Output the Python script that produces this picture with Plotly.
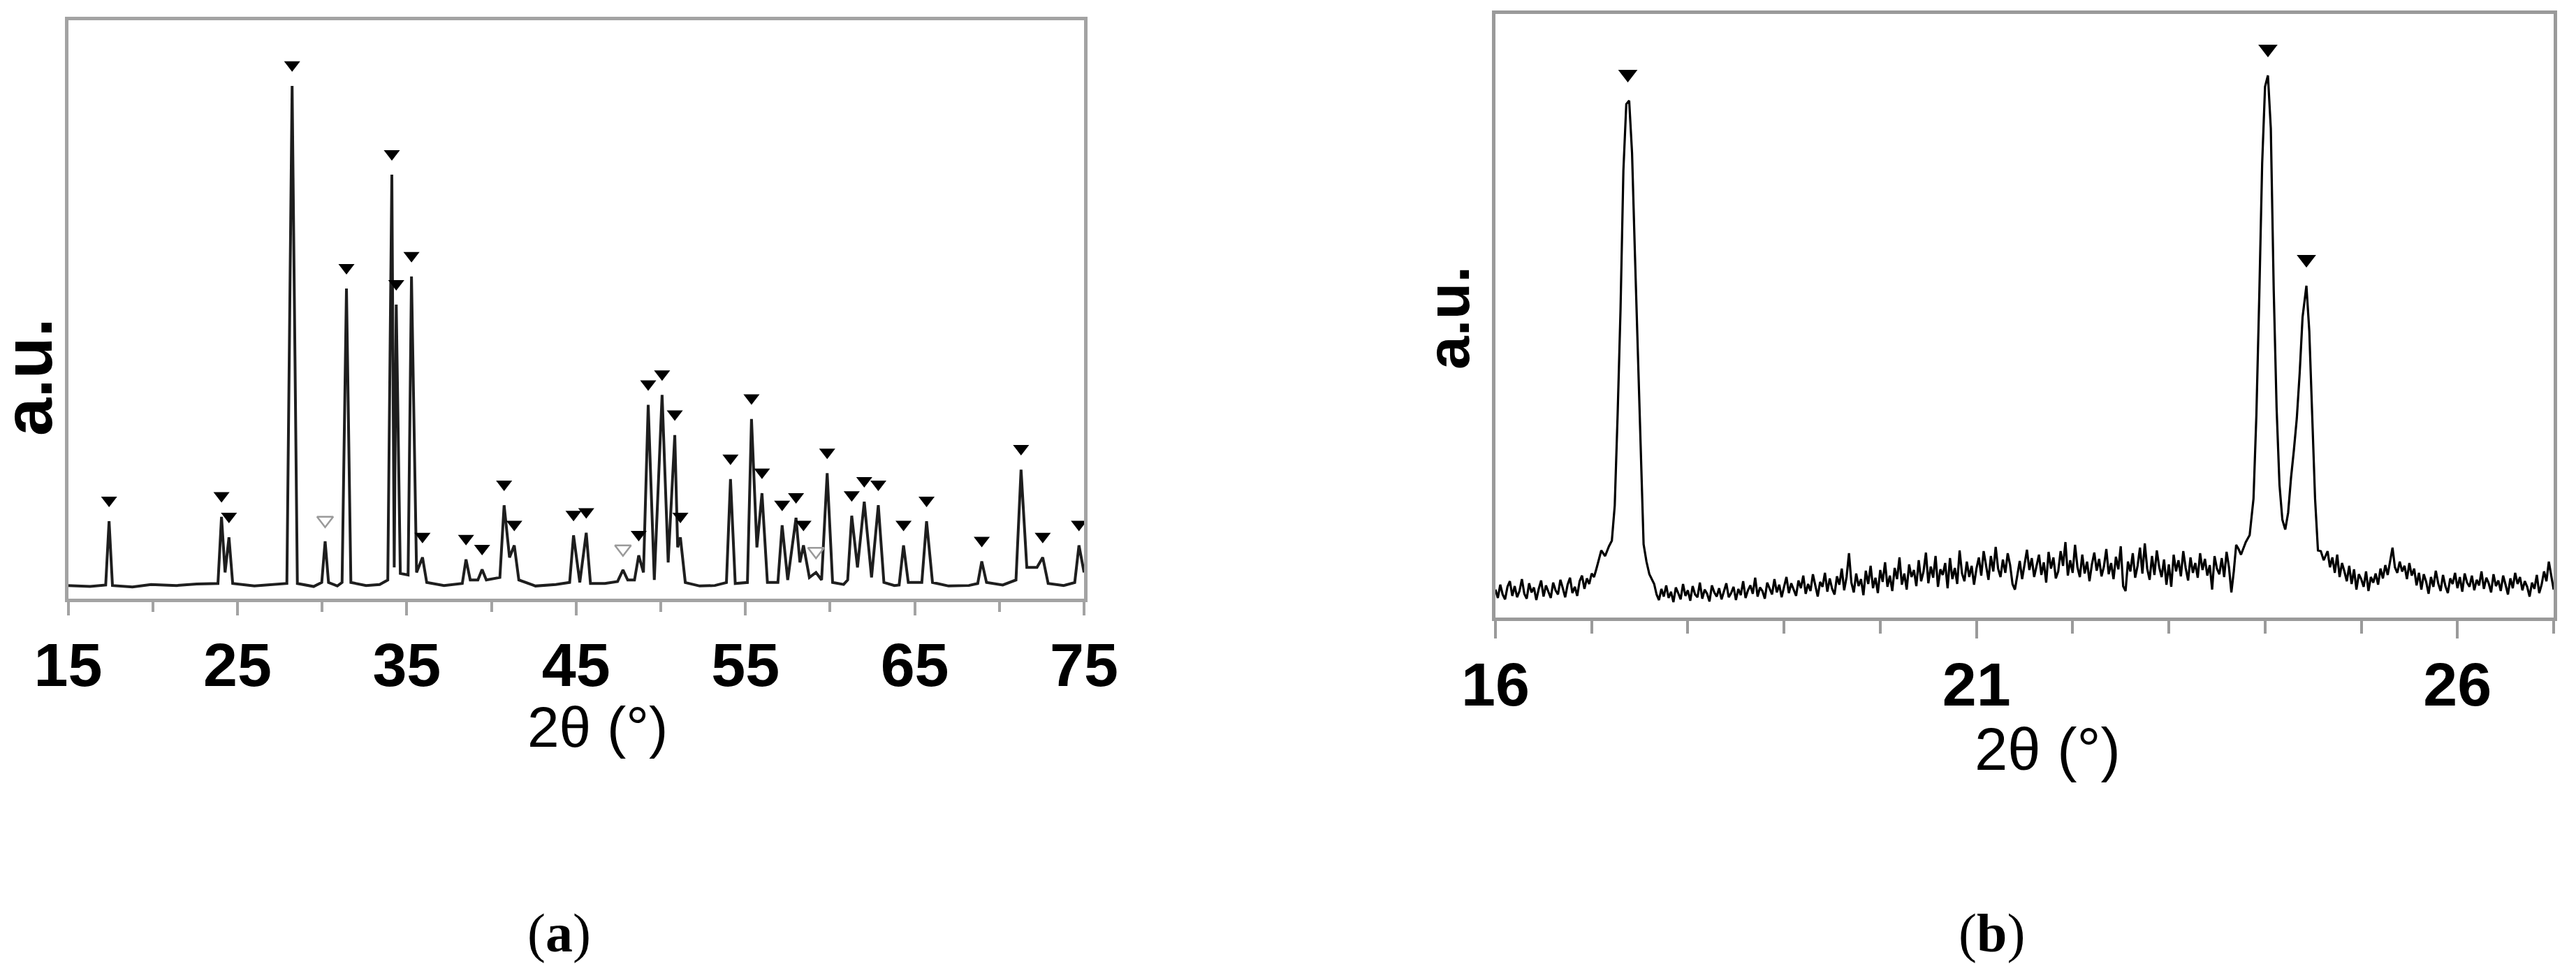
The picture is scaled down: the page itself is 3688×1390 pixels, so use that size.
import plotly.graph_objects as go

# page geometry (browser body has an 8 px default margin)
PAGE_W, PAGE_H = 3688, 1390
BODY = 8
W, H = PAGE_W - 2 * BODY, PAGE_H - 2 * BODY

# ---------------- Panel (a) data: full XRD pattern ----------------
a_peak_2theta = [17.42, 24.06, 24.50, 28.23, 30.18, 31.44, 34.12, 34.38, 35.28, 35.93,
                 38.50, 39.45, 40.75, 41.35, 44.85, 45.60, 47.77, 48.70, 49.26, 50.08,
                 50.83, 51.16, 54.12, 55.36, 55.98, 57.17, 57.99, 58.43, 59.17, 59.83,
                 61.28, 62.02, 62.85, 64.34, 65.70, 68.96, 71.28, 72.56, 74.70]
a_peak_int = [13.2, 14.1, 10.0, 100.0, 9.2, 59.6, 82.3, 56.4, 62.0, 6.0,
              5.6, 3.6, 16.4, 8.4, 10.4, 10.9, 3.5, 6.4, 36.4, 38.4,
              30.4, 10.0, 21.6, 33.6, 18.8, 12.4, 13.9, 8.4, 3.0, 22.8,
              14.3, 17.1, 16.4, 8.4, 13.2, 5.2, 23.5, 6.0, 8.4]
a_peak_open = [30.18, 47.77, 59.17]   # peaks marked with hollow triangles

a_base_2theta = [15.0, 16.3, 17.22, 17.62, 18.8, 19.9, 21.4, 22.6, 23.85, 24.27, 24.72,
                 26.0, 27.2, 27.92, 28.54, 29.5, 29.98, 30.38, 30.9, 31.18, 31.70,
                 32.6, 33.4, 33.88, 34.26, 34.62, 35.08, 35.58, 36.18, 37.2, 38.28,
                 38.75, 39.2, 39.7, 40.5, 41.07, 41.62, 42.6, 43.8, 44.62, 45.22,
                 45.85, 46.7, 47.45, 48.05, 48.45, 48.98, 49.62, 50.44, 51.0, 51.45,
                 52.3, 53.2, 53.88, 54.40, 55.12, 55.68, 56.30, 56.92, 57.50, 58.22,
                 58.78, 59.50, 60.15, 60.8, 61.04, 61.62, 62.45, 63.18, 63.8, 64.08,
                 64.62, 65.42, 66.05, 67.0, 68.2, 68.72, 69.24, 70.2, 70.98, 71.62,
                 72.22, 72.88, 73.8, 74.45, 75.0]
a_base_int = [0.4, 0.2, 0.5, 0.4, 0.1, 0.6, 0.4, 0.7, 0.8, 3.0, 0.8,
              0.3, 0.6, 0.8, 0.8, 0.2, 1.0, 1.0, 0.3, 1.0, 1.0,
              0.4, 0.6, 1.5, 4.0, 2.8, 2.5, 3.0, 1.0, 0.4, 0.8,
              1.5, 1.5, 1.5, 2.0, 6.0, 1.5, 0.3, 0.6, 1.0, 1.0,
              0.8, 0.8, 1.2, 1.5, 1.5, 3.0, 1.5, 5.0, 8.0, 1.0,
              0.3, 0.4, 1.0, 0.8, 1.0, 8.0, 1.0, 1.0, 1.5, 5.0,
              2.0, 1.5, 1.0, 0.6, 1.5, 4.0, 2.0, 1.0, 0.4, 0.5,
              1.0, 1.0, 1.0, 0.3, 0.4, 0.8, 1.0, 0.5, 1.5, 4.0,
              4.0, 0.8, 0.4, 1.0, 3.0]

a_ticklabels = ["15", "25", "35", "45", "55", "65", "75"]

# ---------------- Panel (b) data: zoom 16-27 deg (scan step 0.025 deg) ----------------
b_step = 0.025
b_seg1_start = 16.000
b_seg1_int = [40, 28, 47, 33, 26, 44, 52, 31, 45, 29, 38, 55, 34, 27, 49, 36, 43, 25, 41, 53,
              30, 46, 37, 28, 50, 39, 33, 54, 42, 29, 47, 57, 35, 44, 31, 52, 60, 41, 56, 48,
              63, 58, 70]
b_peak1_2theta = [17.10, 17.14, 17.18, 17.21, 17.24, 17.27, 17.30, 17.33, 17.36, 17.39, 17.42,
                  17.45, 17.48, 17.51, 17.54, 17.57, 17.60]
b_peak1_int = [96, 88, 102, 110, 160, 290, 440, 640, 735, 740, 665, 520, 385, 235, 105, 80, 62]
b_seg2_start = 17.650
b_seg2_int = [48, 33, 25, 41, 30, 46, 28, 37, 22, 43,
              35, 26, 48, 31, 39, 24, 45, 33, 29, 50,
              27, 40, 34, 23, 46, 36, 30, 42, 26, 38,
              49, 29, 35, 44, 25, 41, 32, 52, 28, 39,
              46, 34, 57, 30, 43, 38, 27, 50, 41, 33,
              55, 36, 47, 29, 44, 58, 35, 49, 40, 31,
              53, 42, 60, 34, 48, 38, 62, 45, 30, 51,
              44, 64, 37, 56, 41, 33, 59, 47, 70, 39,
              58, 92, 50, 36, 63, 45, 55, 32, 67, 48,
              74, 42, 57, 35, 68, 51, 79, 44, 60, 38,
              71, 55, 86, 47, 63, 40, 76, 58, 68, 45,
              82, 52, 66, 93, 49, 73, 57, 88, 44, 69,
              61, 78, 42, 85, 55, 71, 48, 96, 63, 52,
              80, 58, 74, 47, 70]
b_seg3_start = 21.025
b_seg3_int = [86, 60, 95, 72, 54, 88, 66, 101, 70, 58,
              83, 64, 92, 75, 48, 40, 62, 81, 55, 77,
              97, 68, 85, 58, 73, 90, 61, 79, 50, 94,
              70, 86, 56, 66, 95, 74, 108, 60, 82, 64,
              104, 72, 58, 90, 63, 80, 52, 76, 93, 67,
              84, 59, 73, 98, 62, 78, 55, 87, 69, 102,
              45, 38, 80, 66, 92, 57, 74, 100, 63, 106,
              70, 54, 88, 61, 96, 72, 58, 83, 47, 76,
              44, 90, 66, 82, 59, 95, 71, 53, 86, 64,
              78, 57, 92, 68, 84, 60, 75, 40, 88, 70,
              62, 85, 58, 94, 72, 36, 66, 104, 98, 90]
b_peak2_2theta = [23.80, 23.84, 23.88, 23.91, 23.94, 23.97, 24.00, 24.03, 24.06, 24.09, 24.12,
                  24.15, 24.18, 24.21, 24.24, 24.27, 24.30, 24.33, 24.36, 24.39, 24.43, 24.46,
                  24.49, 24.52, 24.55, 24.58, 24.61]
b_peak2_int = [108, 118, 170, 290, 460, 650, 760, 776, 700, 470, 300,
               190, 140, 126, 150, 200, 240, 285, 350, 430, 475, 410,
               290, 170, 96, 95, 82]
b_seg4_start = 24.650
b_seg4_int = [95, 72, 86, 64, 90, 58, 78, 66, 52, 74,
              48, 69, 40, 62, 55, 44, 66, 38, 58, 50,
              63, 47, 70, 56, 75, 61, 82, 100, 72, 64,
              80, 66, 74, 55, 78, 60, 70, 46, 64, 40,
              62, 51, 34, 58, 44, 67, 49, 38, 61, 45,
              35, 56, 48, 64, 42, 58, 37, 63, 50, 44,
              60, 39, 54, 46, 66, 41, 57, 49, 36, 62,
              45, 53, 38, 60, 47, 33, 56, 42, 64, 48,
              58, 39, 52, 44, 30, 50, 41, 61, 35, 47,
              66, 52, 80, 58, 40]
b_peak_2theta = [17.376, 24.03, 24.43]
b_peak_int = [740, 776, 475]
b_ticklabels = ["16", "21", "26"]

# ---------------- build curves ----------------
a_pts = sorted(list(zip(a_peak_2theta, a_peak_int)) + list(zip(a_base_2theta, a_base_int)))
a_x = [p[0] for p in a_pts]
a_y = [p[1] for p in a_pts]


def seg(start, vals):
    return [round(start + b_step * i, 3) for i in range(len(vals))], list(vals)


b_x, b_y = [], []
for xs, ys in [seg(b_seg1_start, b_seg1_int), (b_peak1_2theta, b_peak1_int),
               seg(b_seg2_start, b_seg2_int), seg(b_seg3_start, b_seg3_int),
               (b_peak2_2theta, b_peak2_int), seg(b_seg4_start, b_seg4_int)]:
    b_x += list(xs)
    b_y += list(ys)

# ---------------- styling constants ----------------
AX_GRAY = "#a3a3a3"
SANS = "Liberation Sans, Arial, sans-serif"
SERIF = "Liberation Serif, Times New Roman, serif"


def px_x(p):
    return (p - BODY) / W


def px_y(p):
    return 1 - (p - BODY) / H


# plot-area pixel boxes (page pixels)
A_L, A_R, A_T, A_B = 97.5, 1552, 29, 857
B_L, B_R, B_T, B_B = 2141, 3656, 20, 884
A_PX_PER_UNIT = 7.18
A_BASE_PX = 841
a_yrange = [-(A_B - A_BASE_PX) / A_PX_PER_UNIT, (A_BASE_PX - A_T) / A_PX_PER_UNIT]
A_MARK_GAP = 4.2
B_MARK_GAP = 38

fig = go.Figure()

fig.add_trace(go.Scatter(x=a_x, y=a_y, mode="lines", line=dict(color="#1e1e1e", width=4),
                         xaxis="x", yaxis="y", showlegend=False, hoverinfo="skip"))

filled = [(p, h) for p, h in zip(a_peak_2theta, a_peak_int) if p not in a_peak_open]
hollow = [(p, h) for p, h in zip(a_peak_2theta, a_peak_int) if p in a_peak_open]
fig.add_trace(go.Scatter(x=[p for p, h in filled], y=[h + A_MARK_GAP for p, h in filled],
                         mode="markers", marker=dict(symbol="triangle-down", size=20, color="black"),
                         xaxis="x", yaxis="y", showlegend=False))
fig.add_trace(go.Scatter(x=[p for p, h in hollow], y=[h + A_MARK_GAP for p, h in hollow],
                         mode="markers",
                         marker=dict(symbol="triangle-down-open", size=20, color="#9a9a9a",
                                     line=dict(width=2.5, color="#9a9a9a")),
                         xaxis="x", yaxis="y", showlegend=False))

fig.add_trace(go.Scatter(x=b_x, y=b_y, mode="lines", line=dict(color="black", width=3.2),
                         xaxis="x2", yaxis="y2", showlegend=False, hoverinfo="skip"))
fig.add_trace(go.Scatter(x=b_peak_2theta, y=[h + B_MARK_GAP for h in b_peak_int],
                         mode="markers", marker=dict(symbol="triangle-down", size=24, color="black"),
                         xaxis="x2", yaxis="y2", showlegend=False))

tickfont = dict(family=SANS, size=88, color="black", weight="bold")

fig.update_layout(
    width=W, height=H, margin=dict(l=0, r=0, t=0, b=0, pad=0, autoexpand=False),
    paper_bgcolor="white", plot_bgcolor="white",
    xaxis=dict(domain=[px_x(A_L), px_x(A_R)], range=[15, 75], anchor="y",
               tickmode="array", tickvals=[int(t) for t in a_ticklabels], ticktext=a_ticklabels,
               ticks="outside", ticklen=19, tickwidth=4, tickcolor=AX_GRAY,
               showline=True, linecolor=AX_GRAY, linewidth=5, mirror=True, automargin=False,
               showgrid=False, zeroline=False, tickfont=tickfont, ticklabelstandoff=-5,
               minor=dict(dtick=5, tick0=15, ticks="outside", ticklen=14, tickwidth=4,
                          tickcolor=AX_GRAY, showgrid=False)),
    yaxis=dict(domain=[px_y(A_B), px_y(A_T)], range=a_yrange, anchor="x", automargin=False,
               showticklabels=False, ticks="", showline=True, linecolor=AX_GRAY,
               linewidth=5, mirror=True, showgrid=False, zeroline=False),
    xaxis2=dict(domain=[px_x(B_L), px_x(B_R)], range=[16, 27], anchor="y2",
                tickmode="array", tickvals=[int(t) for t in b_ticklabels], ticktext=b_ticklabels,
                ticks="outside", ticklen=25, tickwidth=4, tickcolor="#9a9a9a",
                showline=True, linecolor="#9a9a9a", linewidth=5, mirror=True, automargin=False,
                showgrid=False, zeroline=False, tickfont=tickfont, ticklabelstandoff=-10,
                minor=dict(dtick=1, tick0=16, ticks="outside", ticklen=18, tickwidth=4,
                           tickcolor="#9a9a9a", showgrid=False)),
    yaxis2=dict(domain=[px_y(B_B), px_y(B_T)], range=[0, 864], anchor="x2", automargin=False,
                showticklabels=False, ticks="", showline=True, linecolor="#9a9a9a",
                linewidth=5, mirror=True, showgrid=False, zeroline=False),
)

annots = [
    dict(text="<b>a.u.</b>", x=px_x(40), y=px_y(540), textangle=-90,
         font=dict(family=SANS, size=98, color="black")),
    dict(text="<b>a.u.</b>", x=px_x(2073), y=px_y(455), textangle=-90,
         font=dict(family=SANS, size=86, color="black")),
    dict(text="2θ (°)", x=px_x(855.5), y=px_y(1040),
         font=dict(family=SANS, size=82, color="black")),
    dict(text="2θ (°)", x=px_x(2931), y=px_y(1072),
         font=dict(family=SANS, size=85, color="black")),
    dict(text="(<b>a</b>)", x=px_x(800), y=px_y(1335),
         font=dict(family=SERIF, size=78, color="black")),
    dict(text="(<b>b</b>)", x=px_x(2851), y=px_y(1335),
         font=dict(family=SERIF, size=78, color="black")),
]
for a in annots:
    fig.add_annotation(xref="paper", yref="paper", showarrow=False,
                       xanchor="center", yanchor="middle", **a)

fig.write_html("out.html")
